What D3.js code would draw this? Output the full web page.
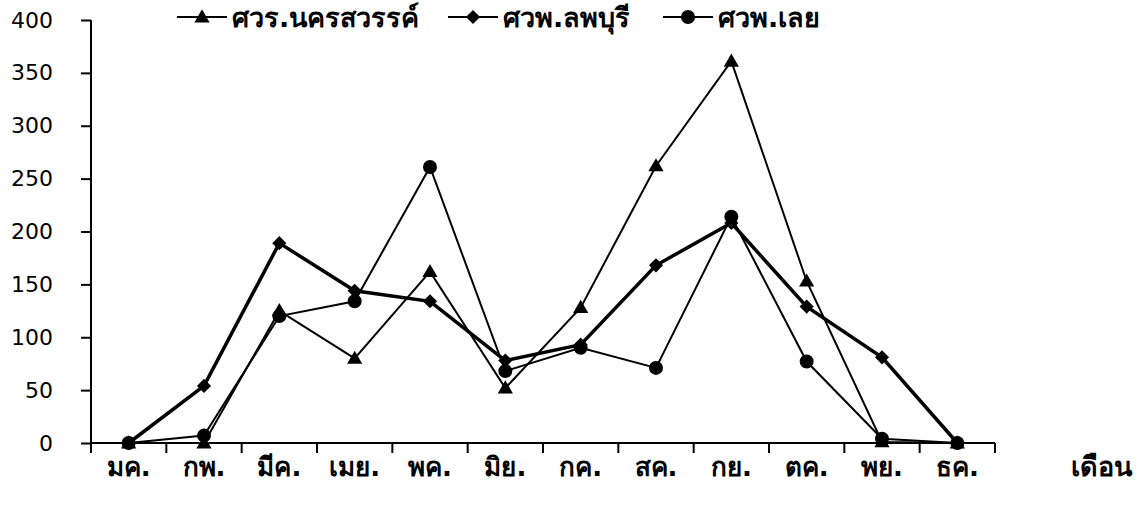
<!DOCTYPE html>
<html><head><meta charset="utf-8">
<script src="https://cdn.jsdelivr.net/npm/d3@7"></script>
<style>body{margin:0;background:#fff}svg{display:block}text{font-family:Tahoma,"DejaVu Sans",sans-serif}</style>
</head><body><svg id="c" width="1141" height="507"></svg>
<script>
const months = ["มค.","กพ.","มีค.","เมย.","พค.","มิย.","กค.","สค.","กย.","ตค.","พย.","ธค."];
const nakhonsawan = [0,0,125,80,162,52,128,262,361,153,1,0];
const lopburi = [0,54,189,144,134,78,93,168,208,129,81,0];
const loei = [0,7,120,134,261,68,90,71,214,77,4,0];
const seriesNames = ["ศวร.นครสวรรค์","ศวพ.ลพบุรี","ศวพ.เลย"];
const yTicks = [0,50,100,150,200,250,300,350,400];
const xTitle = "เดือน";

(function(){
const svg = d3.select("#c");
const L = 91, R = 995, T = 20, B = 443;
const x = d3.scaleBand().domain(months).range([L, R]);
const y = d3.scaleLinear().domain([0,400]).range([B, T]);

// y axis
const ya = svg.append("g").attr("transform",`translate(${L},0)`)
  .call(d3.axisLeft(y).tickValues(yTicks).tickSize(10).tickPadding(28));
ya.select(".domain").attr("d",`M0,${T}V${B+10}`).attr("stroke","#000").attr("stroke-width",2);
ya.selectAll(".tick line").attr("stroke","#000").attr("stroke-width",2);
ya.selectAll(".tick text").attr("font-size",22).attr("fill","#000").style("font-family","Tahoma,'DejaVu Sans',sans-serif");

// x axis
const xa = svg.append("g").attr("transform",`translate(0,${B})`);
xa.append("line").attr("x1",L).attr("x2",R).attr("stroke","#000").attr("stroke-width",2);
const bounds = months.map(m=>x(m)).concat([R]);
xa.selectAll("line.t").data(bounds).join("line").attr("class","t")
  .attr("x1",d=>d).attr("x2",d=>d).attr("y1",0).attr("y2",10).attr("stroke","#000").attr("stroke-width",2);
xa.selectAll("text.l").data(months).join("text").attr("class","l")
  .attr("x",d=>x(d)+x.bandwidth()/2).attr("y",33).attr("text-anchor","middle")
  .attr("font-size",26).attr("font-weight","bold").text(d=>d);
svg.append("text").attr("x",1101).attr("y",476).attr("text-anchor","middle")
  .attr("font-size",27).attr("font-weight","bold").text(xTitle);

const cx = (d,i)=>x(months[i])+x.bandwidth()/2;
const line = d3.line().x(cx).y(d=>y(d));

const tri = d3.symbol().type(d3.symbolTriangle).size(100);
const dia = d3.symbol().type(d3.symbolSquare).size(100);
const cir = d3.symbol().type(d3.symbolCircle).size(154);

const defs = [
  {data:nakhonsawan, w:2, sym:tri, dy:1, rot:0},
  {data:lopburi, w:3.5, sym:dia, dy:0, rot:45},
  {data:loei, w:2, sym:cir, dy:0, rot:0}
];
defs.forEach(s=>{
  svg.append("path").datum(s.data).attr("d",line).attr("fill","none").attr("stroke","#000").attr("stroke-width",s.w);
});
defs.forEach(s=>{
  svg.selectAll(null).data(s.data).join("path")
    .attr("transform",(d,i)=>`translate(${cx(d,i)},${y(d)+s.dy}) rotate(${s.rot})`)
    .attr("d",s.sym).attr("fill","#000");
});

// legend
const legX = [177,448,663];
defs.forEach((s,i)=>{
  const g = svg.append("g").attr("transform",`translate(${legX[i]},17)`);
  g.append("line").attr("x1",0).attr("x2",50).attr("stroke","#000").attr("stroke-width",2);
  g.append("path").attr("transform",`translate(25,${s.dy}) rotate(${s.rot})`).attr("d",s.sym).attr("fill","#000");
  g.append("text").attr("x",55).attr("y",10).attr("font-size",27).attr("font-weight","bold").text(seriesNames[i]);
});
})();
</script></body></html>
